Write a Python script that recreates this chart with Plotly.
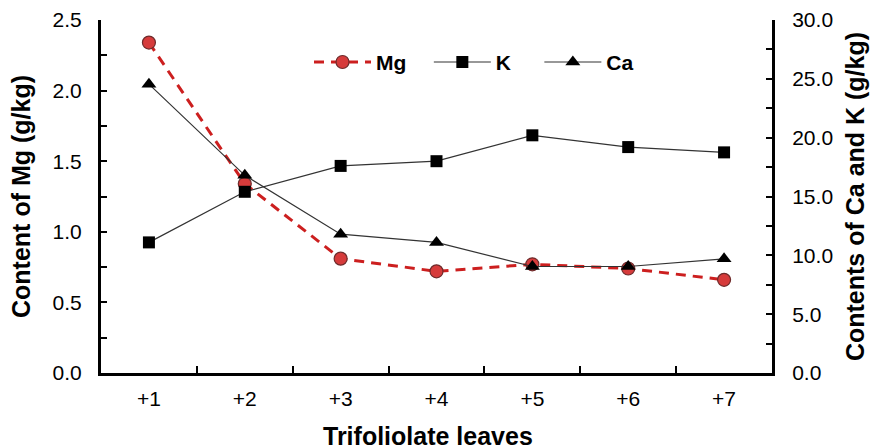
import plotly.graph_objects as go

categories = ["+1", "+2", "+3", "+4", "+5", "+6", "+7"]
mg_values = [2.34, 1.34, 0.81, 0.72, 0.77, 0.74, 0.66]
k_values = [11.1, 15.4, 17.6, 18.0, 20.2, 19.2, 18.75]
ca_values = [24.55, 16.8, 11.8, 11.1, 9.05, 9.05, 9.7]
series_names = ["Mg", "K", "Ca"]

FONT = "Liberation Sans, Arial, sans-serif"
NB = "\u00a0"

fig = go.Figure()
fig.add_trace(go.Scatter(
    x=categories, y=mg_values, name=series_names[0] + NB * 3, mode="lines+markers",
    line=dict(color="#CC1F1F", width=3, dash="10px,7px"),
    marker=dict(symbol="circle", size=13, color="#D63B3B",
                line=dict(color="#6E2B2B", width=1.2)),
    yaxis="y",
))
fig.add_trace(go.Scatter(
    x=categories, y=k_values, name=series_names[1] + NB * 4, mode="lines+markers",
    line=dict(color="#333333", width=1.2),
    marker=dict(symbol="square", size=12, color="black"),
    yaxis="y2",
))
fig.add_trace(go.Scatter(
    x=categories, y=ca_values, name=series_names[2], mode="lines+markers",
    line=dict(color="#333333", width=1.2),
    marker=dict(symbol="triangle-up", size=13, color="black"),
    yaxis="y2",
))

fig.update_layout(
    width=879, height=448,
    margin=dict(l=101, r=107, t=20, b=75),
    paper_bgcolor="white", plot_bgcolor="white",
    font=dict(family=FONT, color="black", size=21),
    showlegend=True,
    legend=dict(
        orientation="h", x=0.31, y=0.88, xanchor="left", yanchor="middle",
        font=dict(size=21, weight="bold", family=FONT),
        bgcolor="rgba(0,0,0,0)", itemwidth=57,
    ),
    xaxis=dict(
        type="category", range=[-0.5, 6.5], automargin=False,
        showline=True, linecolor="black", linewidth=3,
        ticks="inside", ticklen=7, tickwidth=2, tickcolor="black",
        tickson="boundaries", showgrid=False, zeroline=False,
        tickfont=dict(size=21),
        ticklabelstandoff=5,
    ),
    yaxis=dict(
        range=[0, 2.5], dtick=0.5, tickformat=".1f", automargin=False,
        showline=True, linecolor="black", linewidth=3,
        ticks="inside", ticklen=6, tickwidth=2, tickcolor="black",
        minor=dict(dtick=0.25, ticks="inside", ticklen=6, tickwidth=2, tickcolor="black"),
        showgrid=False, zeroline=False,
        tickfont=dict(size=21),
        ticklabelstandoff=12,
        title=dict(text="<b>Content of Mg (g/kg)</b>", font=dict(size=25)),
    ),
    yaxis2=dict(
        range=[0, 30], dtick=5, tickformat=".1f", automargin=False,
        overlaying="y", side="right",
        showline=True, linecolor="black", linewidth=3,
        ticks="inside", ticklen=6, tickwidth=2, tickcolor="black",
        minor=dict(dtick=2.5, ticks="inside", ticklen=6, tickwidth=2, tickcolor="black"),
        showgrid=False, zeroline=False,
        tickfont=dict(size=21),
        ticklabelstandoff=13,
        title=dict(text="<b>Contents of Ca and K (g/kg)</b>", font=dict(size=25)),
    ),
    annotations=[dict(
        text="<b>Trifoliolate leaves</b>", xref="paper", yref="paper",
        x=0.487, y=-0.133, xanchor="center", yanchor="top", showarrow=False,
        font=dict(size=25, family=FONT, color="black"),
    )],
)

fig.write_html("out.html")
